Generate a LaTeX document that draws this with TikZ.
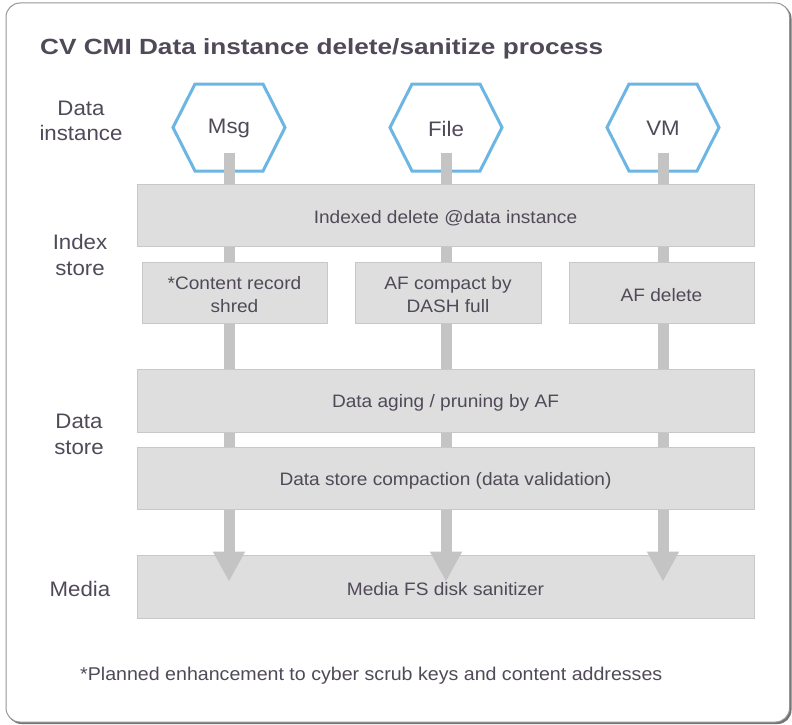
\documentclass[tikz,border=0pt]{standalone}
\usepackage{fontspec}
\setmainfont{Liberation Sans}[FakeStretch=1.06]
\newfontfamily\titlefont{Liberation Sans}[FakeStretch=1.19]
\usetikzlibrary{arrows.meta,calc}

\definecolor{inktext}{RGB}{80,74,88}
\definecolor{boxfill}{RGB}{222,222,222}
\definecolor{boxline}{RGB}{200,200,200}
\definecolor{shaft}{RGB}{196,196,196}
\definecolor{hexblue}{RGB}{108,182,228}
\definecolor{framegray}{RGB}{150,150,150}

\tikzset{
  stagebox/.style={draw=boxline, line width=0.8pt, fill=boxfill, inner sep=0pt},
  widebox/.style={stagebox, minimum width=617pt, minimum height=62pt},
  smallbox/.style={stagebox, minimum width=185pt, minimum height=61pt},
  boxtext/.style={text=inktext, align=center, inner sep=0pt,
    font=\fontsize{18}{23}\selectfont},
  rowlabel/.style={text=inktext, align=center, font=\fontsize{21}{25.5}\selectfont},
  hexlabel/.style={text=inktext, font=\fontsize{21}{25}\selectfont},
  hexline/.style={draw=hexblue, line width=3pt, line join=miter, fill=white},
  flow/.style={draw=shaft, line width=11pt,
    -{Triangle[width=30pt,length=30pt]}},
}

\begin{document}
\begin{tikzpicture}[x=1pt,y=-1pt]
\useasboundingbox (0,0) rectangle (792,725);

% outer panel with a soft drop edge
\fill[black!55, rounded corners=14pt] (7.5,4.5) rectangle (791.5,724);
\draw[framegray, fill=white, line width=1pt, rounded corners=14pt] (6,3) rectangle (789.5,722);

% title
\node[anchor=base west, inner sep=0pt, text=inktext,
  font=\titlefont\bfseries\fontsize{22}{26}\selectfont]
  (title) at (40,55) {CV CMI Data instance delete/sanitize process};

% row labels
\node[rowlabel] (lblinst)  at (81,121)  {Data\\instance};
\node[rowlabel] (lblindex) at (80,255)  {Index\\store};
\node[rowlabel] (lbldata)  at (79,434.5) {Data\\store};
\node[rowlabel] (lblmedia) at (80,589)  {Media};

% data instance hexagons
\foreach \name/\cx/\txt in {msg/229/Msg, file/446/File, vm/663/VM}{
  \draw[hexline] (\cx-56,127.5) -- (\cx-34,84) -- (\cx+34,84) -- (\cx+56,127.5)
    -- (\cx+34,171) -- (\cx-34,171) -- cycle;
  \node[hexlabel] (\name) at (\cx,128.5) {\txt};
}

% media layer sits under the arrow heads
\node[widebox, minimum height=63pt] (media) at (445.5,586.5) {};
\node[boxtext] (mediatext) at ($(media)+(0,3)$) {Media FS disk sanitizer};

% flow shafts from each data instance down to the media layer
\foreach \name in {msg,file,vm}{
  \draw[flow] ($(\name)+(0,24)$) -- ($(\name |- media.north)+(0,27)$);
}

% index store
\node[widebox] (indexed) at (445.5,215) {};
\node[boxtext] (indexedtext) at ($(indexed)+(0,3)$) {Indexed delete @data instance};
\node[smallbox] (shred) at (234.5,292.5) {};
\node[boxtext] (shredtext) at ($(shred)+(0,2)$) {*Content record\\shred};
\node[smallbox, minimum width=186pt] (compact) at (448,292.5) {};
\node[boxtext] (compacttext) at ($(compact)+(0,2)$) {AF compact by\\DASH full};
\node[smallbox] (afdel) at (661.5,292.5) {};
\node[boxtext] (afdeltext) at ($(afdel)+(0,2.5)$) {AF delete};

% data store
\node[widebox, minimum height=63pt] (aging) at (445.5,400.5) {};
\node[boxtext] (agingtext) at ($(aging)+(0,2.5)$) {Data aging / pruning by AF};
\node[widebox] (compaction) at (445.5,478) {};
\node[boxtext] (compactiontext) at ($(compaction)+(0,2.5)$) {Data store compaction (data validation)};

% footnote
\node[anchor=west, inner sep=0pt, text=inktext, font=\fontsize{18.5}{22}\selectfont]
  (note) at (80,675.5) {*Planned enhancement to cyber scrub keys and content addresses};
\end{tikzpicture}
\end{document}
